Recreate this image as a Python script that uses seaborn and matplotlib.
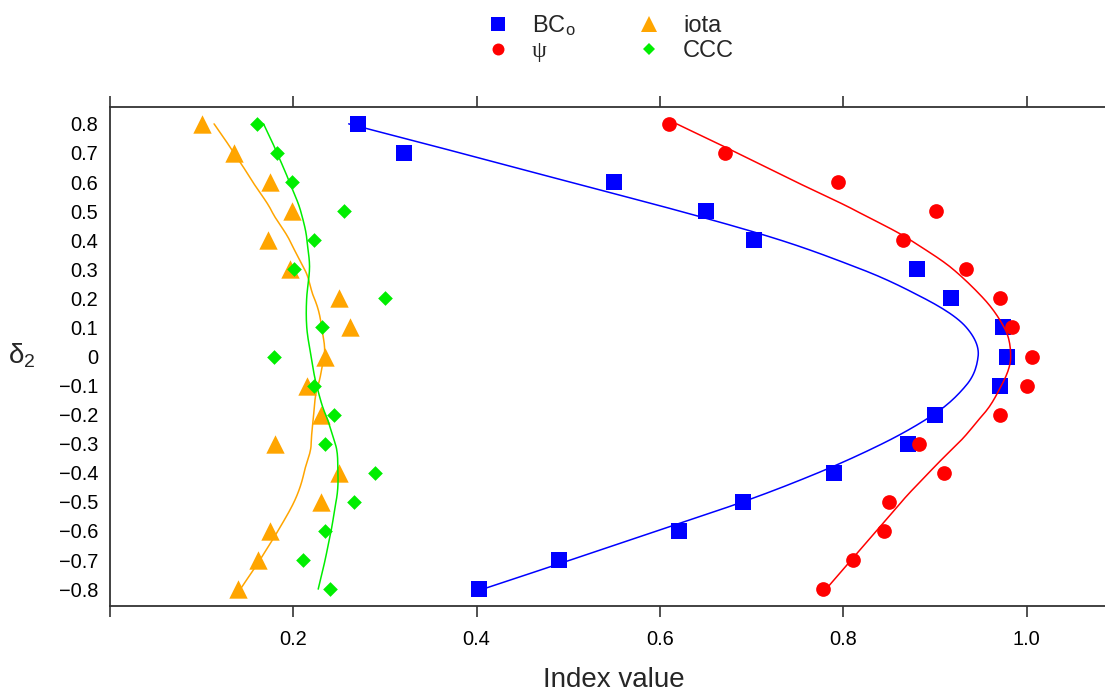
import numpy as np
import pandas as pd
import matplotlib
matplotlib.use("Agg")
import matplotlib.pyplot as plt
from matplotlib.lines import Line2D
import seaborn as sns

# ---------------- data ----------------
delta = [0.8, 0.7, 0.6, 0.5, 0.4, 0.3, 0.2, 0.1, 0.0,
         -0.1, -0.2, -0.3, -0.4, -0.5, -0.6, -0.7, -0.8]
bco = [0.270, 0.321, 0.550, 0.650, 0.703, 0.880, 0.917, 0.974, 0.979,
       0.971, 0.900, 0.871, 0.790, 0.690, 0.621, 0.490, 0.402]
psi = [0.610, 0.671, 0.794, 0.901, 0.865, 0.934, 0.971, 0.984, 1.006,
       1.000, 0.971, 0.882, 0.910, 0.850, 0.844, 0.810, 0.778]
iota = [0.100, 0.135, 0.174, 0.199, 0.172, 0.196, 0.250, 0.262, 0.234,
        0.215, 0.230, 0.180, 0.250, 0.230, 0.174, 0.161, 0.140]
ccc = [0.160, 0.182, 0.199, 0.255, 0.222, 0.201, 0.300, 0.231, 0.179,
       0.222, 0.244, 0.234, 0.289, 0.266, 0.235, 0.210, 0.240]

series_names = ["BCo", "psi", "iota", "CCC"]
series_labels = [r"BC$_\mathrm{o}$", "\u03c8", "iota", "CCC"]
series_values = [bco, psi, iota, ccc]
colors = ["#0000FF", "#FF0000", "#FFA500", "#00EE00"]
markers = ["s", "o", "^", "D"]
msizes = [118, 112, 175, 56]          # scatter sizes (pt^2)
leg_msizes = [9.6, 8.6, 11.0, 6.0]    # legend marker sizes (pt)

x_ticks = [0.0, 0.2, 0.4, 0.6, 0.8, 1.0]
x_ticklabels = ["", "0.2", "0.4", "0.6", "0.8", "1.0"]
y_ticks = delta
y_ticklabels = ["0" if v == 0 else ("%.1f" % v).replace("-", "\u2212") for v in delta]


def loess(xp, yp, xe, span=0.5, iterations=4):
    """R-style loess (degree 1, tricube weights, symmetric family),
    evaluated at the data points (vertices) with value and slope, then
    interpolated with cubic Hermite pieces, like surface='interpolate'."""
    xp = np.asarray(xp, float); yp = np.asarray(yp, float)
    n = len(xp); q = int(np.floor(n * span))
    rw = np.ones(n)

    def fit(x0, rw):
        d = np.abs(xp - x0)
        h = np.sort(d)[q - 1]
        u = np.clip(d / h, 0, 1)
        w = (1 - u ** 3) ** 3 * rw
        X = np.column_stack([np.ones(n), xp - x0])
        A = X.T @ (w[:, None] * X)
        b = X.T @ (w * yp)
        return np.linalg.lstsq(A, b, rcond=None)[0]

    for _ in range(iterations - 1):
        fitted = np.array([fit(x0, rw)[0] for x0 in xp])
        res = yp - fitted
        s = np.median(np.abs(res))
        u = np.clip(res / (6 * s), -1, 1)
        rw = (1 - u ** 2) ** 2

    order = np.argsort(xp)
    vx = xp[order]
    coefs = np.array([fit(v, rw) for v in vx])
    vy, vd = coefs[:, 0], coefs[:, 1]
    xe = np.asarray(xe, float)
    out = np.empty_like(xe)
    for i, x in enumerate(xe):
        k = np.clip(np.searchsorted(vx, x) - 1, 0, len(vx) - 2)
        x0, x1 = vx[k], vx[k + 1]
        hh = x1 - x0
        t = (x - x0) / hh
        h00 = 2 * t**3 - 3 * t**2 + 1
        h10 = t**3 - 2 * t**2 + t
        h01 = -2 * t**3 + 3 * t**2
        h11 = t**3 - t**2
        out[i] = h00 * vy[k] + h10 * hh * vd[k] + h01 * vy[k + 1] + h11 * hh * vd[k + 1]
    return out


# ---------------- style ----------------
sns.set_style("white")
plt.rcParams["font.family"] = ["Liberation Sans", "DejaVu Sans"]
plt.rcParams["mathtext.fontset"] = "custom"
plt.rcParams["mathtext.rm"] = "Liberation Sans"
plt.rcParams["mathtext.it"] = "Liberation Sans"
plt.rcParams["mathtext.sf"] = "Liberation Sans"

fig = plt.figure(figsize=(11.05, 6.92), dpi=100)
W, H = 1105, 692
ax = fig.add_axes([110 / W, (H - 606) / H, (1110 - 110) / W, (606 - 107) / H])

df = pd.DataFrame({
    "delta": np.tile(delta, len(series_names)),
    "value": np.concatenate(series_values),
    "index": np.repeat(series_names, len(delta)),
})

grid = np.linspace(min(delta), max(delta), 200)
for name, vals, col, mk, ms in zip(series_names, series_values, colors, markers, msizes):
    sub = df[df["index"] == name]
    sns.scatterplot(data=sub, x="value", y="delta", color=col, marker=mk, s=ms,
                    linewidth=0, ax=ax, legend=False, zorder=3)
    fitx = loess(delta, vals, grid)
    ax.plot(fitx, grid, color=col, lw=1.1, zorder=3)

ax.set_xlim(0.0, 1.0909)
ax.set_ylim(-0.858, 0.858)
ax.set_xticks(x_ticks)
ax.set_xticklabels(x_ticklabels)
ax.set_yticks(y_ticks)
ax.set_yticklabels(y_ticklabels)
ax.tick_params(axis="x", which="both", top=True, bottom=True, labeltop=False,
               direction="out", length=8, width=1.1, color="#222222",
               labelsize=14.4, pad=9, labelcolor="black")
ax.tick_params(axis="y", left=True, length=0, labelsize=14.4, pad=8.6,
               labelcolor="black")
for side in ["left", "top", "bottom"]:
    ax.spines[side].set_color("#333333")
    ax.spines[side].set_linewidth(1.3)
ax.spines["right"].set_visible(False)
ax.set_xlabel("")
ax.set_ylabel("")

fig.text(614 / W, 1 - 680 / H, "Index value", fontsize=20, ha="center", va="center")
fig.text(22 / W, 1 - 356 / H, r"$\mathrm{\delta}_2$", fontsize=20, ha="center", va="center")

handles = [Line2D([], [], linestyle="none", marker=mk, color=col, markersize=ms,
                  markeredgewidth=0)
           for mk, col, ms in zip(markers, colors, leg_msizes)]
leg = fig.legend(handles, series_labels, ncol=2, loc="upper center",
                 bbox_to_anchor=(610 / W, 1 - 4 / H), frameon=False,
                 fontsize=17, handlelength=1.0, handletextpad=0.95,
                 columnspacing=2.6, labelspacing=0.1, borderaxespad=0)
leg.get_texts()[1].set_family(["Liberation Serif", "DejaVu Serif"])

fig.savefig("out.png", dpi=100)
